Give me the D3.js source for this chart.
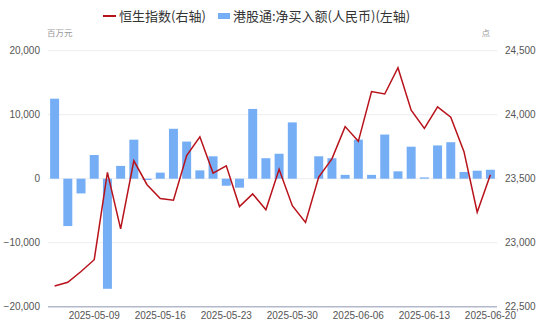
<!DOCTYPE html>
<html>
<head>
<meta charset="utf-8">
<script src="https://cdn.jsdelivr.net/npm/d3@7"></script>
<style>
  body { margin: 0; background: #fff; }
  svg { display: block; font-family: "Noto Sans CJK SC", "Noto Sans", sans-serif; }
</style>
</head>
<body>
<svg id="chart" width="541" height="325"></svg>
<script>
// trading days
const dates = ["2025-05-06","2025-05-07","2025-05-08","2025-05-09","2025-05-12","2025-05-13","2025-05-14","2025-05-15","2025-05-16",
  "2025-05-19","2025-05-20","2025-05-21","2025-05-22","2025-05-23","2025-05-26","2025-05-27","2025-05-28","2025-05-29","2025-05-30",
  "2025-06-02","2025-06-03","2025-06-04","2025-06-05","2025-06-06","2025-06-09","2025-06-10","2025-06-11","2025-06-12","2025-06-13",
  "2025-06-16","2025-06-17","2025-06-18","2025-06-19","2025-06-20"];
// 港股通净买入额 (百万元), null = 休市
const flows = [12500, -7400, -2300, 3700, -17200, 2000, 6100, -200, 950,
  7800, 5800, 1300, 3500, -1100, -1400, 10900, 3200, 3900, 8800,
  null, 3500, 3200, 600, 6100, 600, 6900, 1150, 5000, 200,
  5200, 5700, 1050, 1250, 1400];
// 恒生指数 (点)
const hsi = [22662, 22691, 22775, 22867, 23549, 23108, 23640, 23453, 23345,
  23332, 23681, 23827, 23544, 23601, 23282, 23381, 23258, 23573, 23289,
  23158, 23512, 23655, 23907, 23792, 24181, 24162, 24367, 24035, 23893,
  24061, 23980, 23711, 23238, 23530];
const leftTicks = [-20000, -10000, 0, 10000, 20000];
const rightTicks = [22500, 23000, 23500, 24000, 24500];
const xLabels = ["2025-05-09","2025-05-16","2025-05-23","2025-05-30","2025-06-06","2025-06-13","2025-06-20"];

const svg = d3.select("#chart");
const plotL = 48, plotR = 497, plotT = 50.7, plotB = 306.7;

const x = d3.scaleBand().domain(dates).range([plotL, plotR]).paddingInner(0.32).paddingOuter(0.16);
const yL = d3.scaleLinear().domain([-20000, 20000]).range([plotB, plotT]);
const yR = d3.scaleLinear().domain([22500, 24500]).range([plotB, plotT]);
const fmt = d3.format(",");

// gridlines
svg.append("g").selectAll("line").data(leftTicks.filter(d => d !== -20000)).join("line")
  .attr("x1", plotL).attr("x2", plotR)
  .attr("y1", d => yL(d)).attr("y2", d => yL(d))
  .attr("stroke", "#ececf2").attr("stroke-width", 1);

// left axis
const axL = svg.append("g").attr("transform", `translate(${plotL},0)`)
  .call(d3.axisLeft(yL).tickValues(leftTicks).tickFormat(fmt).tickSize(0).tickPadding(8));
axL.select(".domain").remove();
axL.selectAll("text").attr("fill", "#555").attr("font-size", 10).attr("font-family", "inherit");

// right axis
const axR = svg.append("g").attr("transform", `translate(${plotR},0)`)
  .call(d3.axisRight(yR).tickValues(rightTicks).tickFormat(fmt).tickSize(0).tickPadding(8));
axR.select(".domain").remove();
axR.selectAll("text").attr("fill", "#555").attr("font-size", 10).attr("font-family", "inherit");

// bars
svg.append("g").selectAll("rect").data(dates.map((d, i) => ({ d, v: flows[i] })).filter(e => e.v !== null))
  .join("rect")
  .attr("x", e => x(e.d))
  .attr("width", x.bandwidth())
  .attr("y", e => yL(Math.max(0, e.v)))
  .attr("height", e => Math.abs(yL(e.v) - yL(0)))
  .attr("fill", "#76aef6");

// bottom axis
const axB = svg.append("g").attr("transform", `translate(0,${plotB})`)
  .call(d3.axisBottom(x).tickValues(xLabels).tickSize(0).tickPadding(5));
axB.select(".domain").attr("stroke", "#b4b8cc").attr("stroke-width", 1.5).attr("d", `M${plotL},0H${plotR}`);
axB.selectAll("text").attr("fill", "#555").attr("font-size", 10).attr("font-family", "inherit");

// HSI line
const line = d3.line()
  .x((d, i) => x(dates[i]) + x.bandwidth() / 2)
  .y(d => yR(d));
svg.append("path").datum(hsi)
  .attr("d", line)
  .attr("fill", "none")
  .attr("stroke", "#b8121b")
  .attr("stroke-width", 1.5)
  .attr("stroke-linejoin", "miter");

// unit labels
svg.append("text").attr("x", 47).attr("y", 36).text("百万元")
  .attr("font-size", 8.5).attr("fill", "#999");
svg.append("text").attr("x", 490).attr("y", 36).attr("text-anchor", "end").text("点")
  .attr("font-size", 8.5).attr("fill", "#999");

// legend
const lg = svg.append("g");
lg.append("line").attr("x1", 103).attr("x2", 116).attr("y1", 16).attr("y2", 16)
  .attr("stroke", "#b8121b").attr("stroke-width", 2);
lg.append("text").attr("x", 119).attr("y", 20.5).text("恒生指数(右轴)")
  .attr("font-size", 13).attr("fill", "#333");
lg.append("rect").attr("x", 218).attr("y", 13).attr("width", 12).attr("height", 6)
  .attr("fill", "#76aef6");
lg.append("text").attr("x", 233).attr("y", 20.5).text("港股通:净买入额(人民币)(左轴)")
  .attr("font-size", 13).attr("fill", "#333");
</script>
</body>
</html>
